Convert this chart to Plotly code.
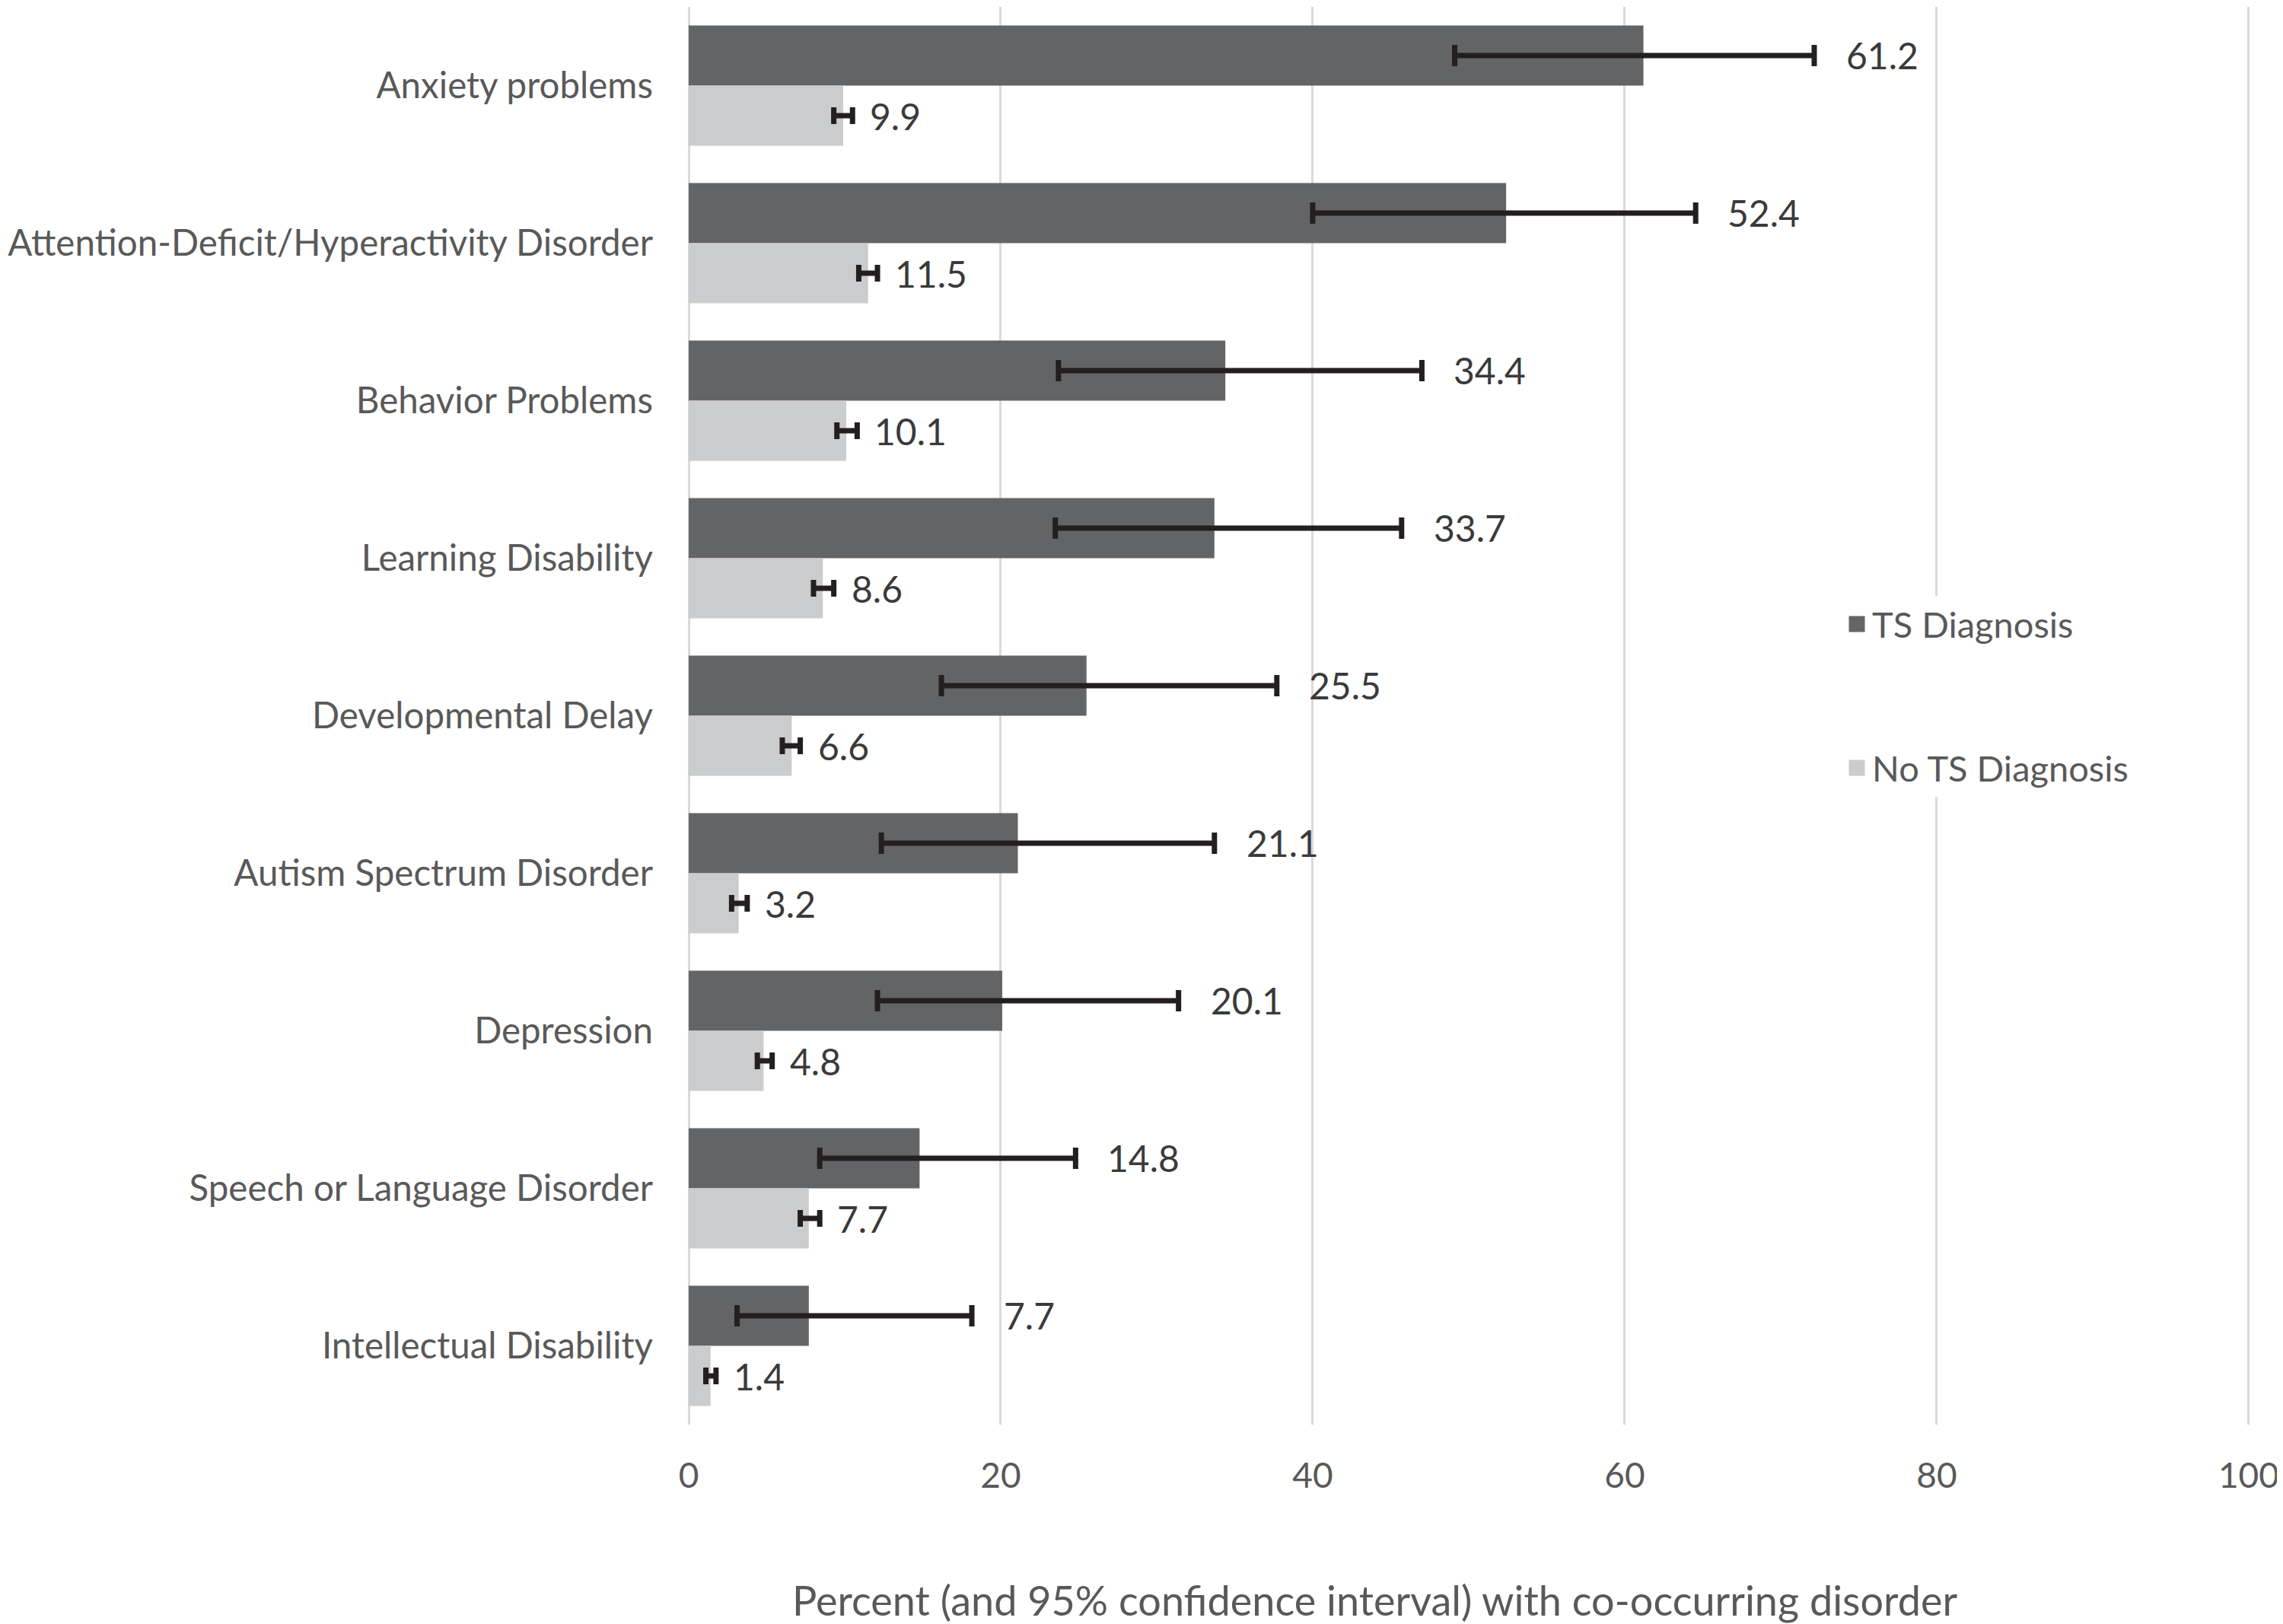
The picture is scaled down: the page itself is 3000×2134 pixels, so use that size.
import plotly.graph_objects as go

categories = [
    "Anxiety problems",
    "Attention-Deficit/Hyperactivity Disorder",
    "Behavior Problems",
    "Learning Disability",
    "Developmental Delay",
    "Autism Spectrum Disorder",
    "Depression",
    "Speech or Language Disorder",
    "Intellectual Disability",
]
ts_values = [61.2, 52.4, 34.4, 33.7, 25.5, 21.1, 20.1, 14.8, 7.7]
ts_lower = [49.1, 40.0, 23.7, 23.5, 16.2, 12.35, 12.1, 8.4, 3.1]
ts_upper = [72.15, 64.55, 47.0, 45.7, 37.7, 33.7, 31.4, 24.8, 18.15]
nots_values = [9.9, 11.5, 10.1, 8.6, 6.6, 3.2, 4.8, 7.7, 1.4]
nots_lower = [9.3, 10.9, 9.5, 8.0, 6.0, 2.75, 4.4, 7.15, 1.1]
nots_upper = [10.5, 12.1, 10.8, 9.3, 7.15, 3.75, 5.35, 8.4, 1.75]
x_ticks = [0, 20, 40, 60, 80, 100]

FONT = "Lato"
TS_COLOR = "#636466"
NOTS_COLOR = "#cbcccd"
ERR_COLOR = "#231f20"
TXT = "#595959"
LBL = "#3a3a3a"

idx = list(range(len(categories)))
off = 0.191
ts_y = [i - off for i in idx]
nots_y = [i + off for i in idx]

fig = go.Figure()
fig.add_trace(go.Bar(
    name="TS Diagnosis", orientation="h", x=ts_values, y=ts_y, width=0.382,
    marker=dict(color=TS_COLOR, line=dict(width=0)),
    error_x=dict(type="data", symmetric=False,
                 array=[u - v for u, v in zip(ts_upper, ts_values)],
                 arrayminus=[v - l for v, l in zip(ts_values, ts_lower)],
                 color=ERR_COLOR, thickness=7, width=14),
    showlegend=False,
))
fig.add_trace(go.Bar(
    name="No TS Diagnosis", orientation="h", x=nots_values, y=nots_y, width=0.382,
    marker=dict(color=NOTS_COLOR, line=dict(width=0)),
    error_x=dict(type="data", symmetric=False,
                 array=[u - v for u, v in zip(nots_upper, nots_values)],
                 arrayminus=[v - l for v, l in zip(nots_values, nots_lower)],
                 color=ERR_COLOR, thickness=7, width=11),
    showlegend=False,
))
# legend entries (square swatches)
for name, col, grp in [("TS Diagnosis", TS_COLOR, "a"), ("No TS Diagnosis", NOTS_COLOR, "b")]:
    fig.add_trace(go.Scatter(
        x=[None], y=[None], mode="markers", name=name, legendgroup=grp,
        marker=dict(symbol="square", size=16, color=col, line=dict(color=col, width=6)),
        showlegend=True,
    ))

annotations = []
for u, v, y in zip(ts_upper, ts_values, ts_y):
    annotations.append(dict(x=u, y=y, text=f"{v:.1f}", xref="x", yref="y",
                            xanchor="left", yanchor="middle", xshift=40,
                            showarrow=False, font=dict(family=FONT, size=48, color=LBL)))
for u, v, y in zip(nots_upper, nots_values, nots_y):
    annotations.append(dict(x=u, y=y, text=f"{v:.1f}", xref="x", yref="y",
                            xanchor="left", yanchor="middle", xshift=21,
                            showarrow=False, font=dict(family=FONT, size=48, color=LBL)))
annotations.append(dict(
    text="Percent (and 95% confidence interval) with co-occurring disorder",
    xref="paper", yref="paper", x=0.4387, y=-0.1235, xanchor="center", yanchor="middle",
    showarrow=False, font=dict(family=FONT, size=54, color=TXT)))

# page body has an 8px default margin, so the figure is 8px smaller
fig.update_layout(
    width=2992, height=2126,
    margin=dict(l=897, r=41, t=1, b=262),
    paper_bgcolor="white", plot_bgcolor="white",
    font=dict(family=FONT, size=46, color=TXT),
    barmode="overlay",
    showlegend=True,
    legend=dict(x=0.7376, y=0.5846, xanchor="left", yanchor="top",
                bgcolor="white", traceorder="grouped", tracegroupgap=125,
                font=dict(family=FONT, size=47, color=TXT),
                itemwidth=30),
    annotations=annotations,
)
fig.update_xaxes(
    range=[0, 100.2], tickvals=x_ticks, ticktext=[str(t) for t in x_ticks],
    showgrid=True, gridcolor="#d9d9d9", gridwidth=3,
    zeroline=True, zerolinecolor="#d9d9d9", zerolinewidth=3,
    showline=False, ticks="", ticklabelstandoff=36,
    tickfont=dict(family=FONT, size=46, color=TXT),
    automargin=False,
)
fig.update_yaxes(
    range=[8.5, -0.5], tickvals=idx, ticktext=categories,
    showgrid=False, zeroline=False, showline=False, ticks="",
    ticklabelstandoff=46,
    tickfont=dict(family=FONT, size=47.5, color=TXT),
    automargin=False,
)

fig.write_html("out.html")
